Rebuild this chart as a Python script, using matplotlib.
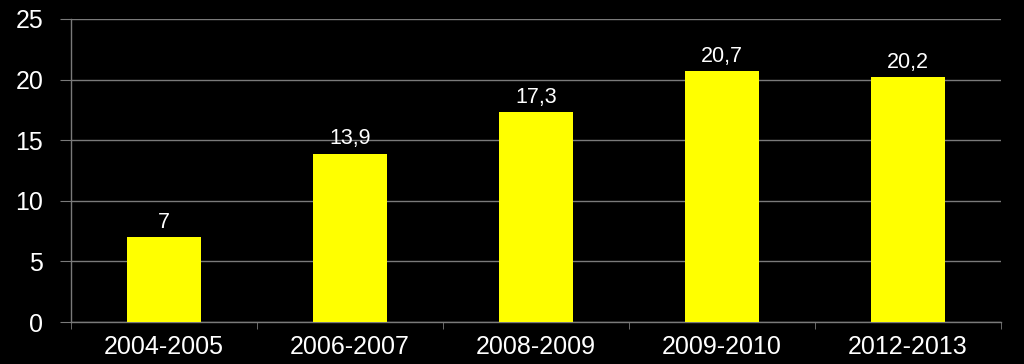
import matplotlib
matplotlib.use("Agg")
import matplotlib.pyplot as plt
import numpy as np

categories = ["2004-2005", "2006-2007", "2008-2009", "2009-2010", "2012-2013"]
values = [7, 13.9, 17.3, 20.7, 20.2]
labels = ["7", "13,9", "17,3", "20,7", "20,2"]
yticks = [0, 5, 10, 15, 20, 25]

plt.rcParams['font.family'] = ['Liberation Sans', 'DejaVu Sans']

fig = plt.figure(figsize=(10.24, 3.64), dpi=100, facecolor='black')
ax = fig.add_axes([71/1024, 1 - 322/364, (1001-71)/1024, (322-19)/364])
ax.set_facecolor('black')

x = np.arange(len(categories))
ax.bar(x, values, width=0.4, color='#FFFF00', zorder=3)
for xi, v, lab in zip(x, values, labels):
    ax.annotate(lab, (xi, v), xytext=(0, 3), textcoords='offset points',
                ha='center', va='bottom', color='white', fontsize=15.5)

ax.set_xlim(-0.5, len(categories) - 0.5)
ax.set_ylim(0, 25)
ax.set_yticks(yticks)
ax.set_yticklabels([str(t) for t in yticks])
ax.yaxis.grid(True, color='#7a7a7a', linewidth=1, zorder=0)
ax.set_xticks(x)
ax.set_xticklabels(categories)
ax.set_xticks(np.arange(len(categories) + 1) - 0.5, minor=True)
ax.tick_params(axis='x', which='major', length=0, pad=9, labelsize=18, labelcolor='white')
ax.tick_params(axis='x', which='minor', length=5, color='#7a7a7a', direction='out')
ax.tick_params(axis='y', length=8, color='#7a7a7a', pad=12, labelsize=18, labelcolor='white')

for s in ['top', 'right']:
    ax.spines[s].set_visible(False)
for s in ['left', 'bottom']:
    ax.spines[s].set_color('#7a7a7a')
    ax.spines[s].set_linewidth(1)

fig.savefig('out.png', dpi=100, facecolor='black')
